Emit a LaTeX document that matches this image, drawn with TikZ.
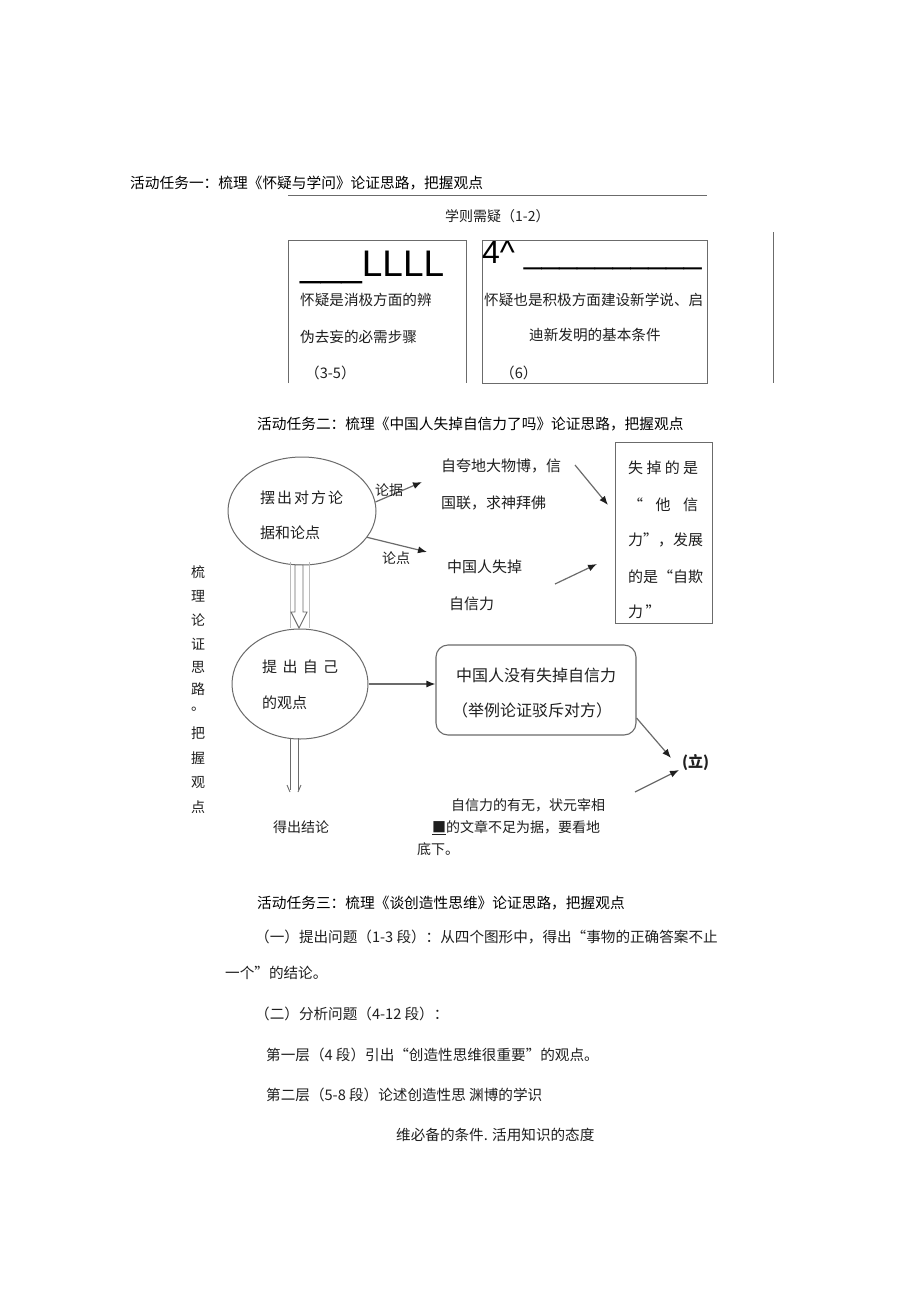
\documentclass[tikz,border=0pt]{standalone}
\usepackage{fontspec}
\setmainfont{Noto Sans CJK SC}
\newfontfamily\arialf{Liberation Sans}
\usetikzlibrary{arrows.meta,shapes.geometric}
\definecolor{lc}{gray}{0.42}
\definecolor{tc}{gray}{0.12}
\begin{document}
\begin{tikzpicture}[x=1pt,y=-1pt,
 txt/.style={anchor=west,inner sep=0pt,text=tc,font=\fontsize{14}{16}\selectfont},
 body/.style={txt,font=\fontsize{14.6}{17}\selectfont},
 ttl/.style={anchor=west,inner sep=0pt,text=black,font=\fontsize{14.7}{17}\selectfont},
 mid/.style={txt,font=\fontsize{15}{17}\selectfont},
 big/.style={txt,font=\fontsize{16}{18}\selectfont},
 ln/.style={draw=lc,line width=0.9pt},
 thinln/.style={draw=lc,line width=0.6pt},
 arr/.style={draw=lc,line width=1.2pt,-{Latex[length=9pt,width=7pt,color=tc]}},
 ]
\path[use as bounding box,fill=white] (0,0) rectangle (920,1301);

% ---------------- Section 1 ----------------
\node[ttl] (t1) at (130,183) {活动任务一：梳理《怀疑与学问》论证思路，把握观点};
\coordinate (u1a) at (288,195);
\coordinate (u1b) at (707,195);
\draw[thinln] (u1a) -- (u1b);
\node[txt] (s1) at (445,216) {学则需疑（1-2）};

\draw[ln] (288,383) -- (288,240) -- (466,240) -- (466,383);
\node[draw=lc,line width=0.9pt,minimum width=225pt,minimum height=143pt,inner sep=0pt] (rb) at (594.5,311.5) {};
\draw[ln] (773,232) -- (773,383);

\node[anchor=base west,inner sep=0pt,text=black,font=\arialf\fontsize{37}{40}\selectfont] (LL) at (300,276) {\_\_\_LLLL};
\node[anchor=base west,inner sep=0pt,text=black,font=\arialf\fontsize{32}{36}\selectfont] (f4) at (482,263) {4\^{} \_\_\_\_\_\_\_\_\_\_};

\node[body] (l1) at (300,300) {怀疑是消极方面的辨};
\node[body] (l2) at (300,337) {伪去妄的必需步骤};
\node[body] (l3) at (305,373) {（3-5）};
\node[body] (r1) at (484,300) {怀疑也是积极方面建设新学说、启};
\node[body] (r2) at (529,335) {迪新发明的基本条件};
\node[body] (r3) at (500,373) {（6）};

% ---------------- Section 2 ----------------
\node[ttl] (t2) at (257,424) {活动任务二：梳理《中国人失掉自信力了吗》论证思路，把握观点};

\node[ellipse,draw=lc,line width=1pt,minimum width=148pt,minimum height=108pt,inner sep=0pt] (e1) at (302,511) {};
\node[mid] (e1a) at (260,498) {\makebox[83pt][s]{摆\hfill 出\hfill 对\hfill 方\hfill 论}};
\node[mid] (e1b) at (260,533) {据和论点};

\node[ellipse,draw=lc,line width=1pt,minimum width=136pt,minimum height=110pt,inner sep=0pt] (e2) at (300,684) {};
\node[mid] (e2a) at (262,667) {\makebox[76pt][s]{提\hfill 出\hfill 自\hfill 己}};
\node[mid] (e2b) at (262,703) {的观点};

% double arrow between ellipses
\draw[draw=lc!45,line width=0.6pt] (290,562) -- (290,628) (309,562) -- (309,628);
\draw[ln,fill=white] (295,565) -- (303,565) -- (303,612) -- (307,612) -- (299,628) -- (291,612) -- (295,612) -- cycle;
% double line down from ellipse 2
\draw[ln] (290,738) -- (290,790) (298,738) -- (298,790);
\draw[ln] (287,785) -- (290,792) (301,785) -- (298,792);
\node[txt] (dc) at (273,827) {得出结论};

% evidence / claim arrows
\coordinate (ja) at (422,482);
\coordinate (jb) at (427,552);
\draw[arr] (e1.7) -- (ja);
\draw[arr] (e1.-22) -- (jb);
\node[txt] (lj) at (375,490) {论据};
\node[txt] (ld) at (382,558) {论点};

\node[mid] (k1) at (441,466) {自夸地大物博，信};
\node[mid] (k2) at (441,503) {国联，求神拜佛};
\node[mid] (k3) at (447,567) {中国人失掉};
\node[mid] (k4) at (449,604) {自信力};

\node[draw=lc,line width=1pt,minimum width=97pt,minimum height=181pt,inner sep=0pt] (b3) at (663.5,532.5) {};
\node[mid] (m1) at (628,468) {\makebox[70pt][s]{失\hfill 掉\hfill 的\hfill 是}};
\node[mid] (m2) at (628,505) {\makebox[70pt][s]{“\hfill 他\hfill 信}};
\node[mid] (m3) at (628,540) {\makebox[72pt][s]{力”，\hfill 发\hfill 展}};
\node[mid] (m4) at (628,577) {\makebox[72pt][s]{的\hfill 是\hfill “自\hfill 欺}};
\node[mid] (m5) at (628,612) {力\,”};

\coordinate (a1s) at (575,465);
\coordinate (a1e) at (608,505);
\coordinate (a2s) at (555,584);
\coordinate (a2e) at (597,564);
\draw[arr] (a1s) -- (a1e);
\draw[arr] (a2s) -- (a2e);

\node[draw=lc,line width=1.1pt,rounded corners=12pt,minimum width=200pt,minimum height=90pt,inner sep=0pt] (b2) at (536,690) {};
\node[big] (n1) at (456,675) {中国人没有失掉自信力};
\node[big] (n2) at (452,710) {（举例论证驳斥对方）};
\draw[arr] (e2.east) -- (e2.east -| b2.west);

\node[anchor=west,inner sep=0pt,text=tc,font=\bfseries\fontsize{15}{17}\selectfont] (li) at (682,763) {(立)};
\coordinate (c1e) at (671,758);
\coordinate (c2s) at (635,792);
\coordinate (c2e) at (679,770);
\draw[arr] ([yshift=-28pt]b2.east) -- (c1e);
\draw[arr] (c2s) -- (c2e);

\node[txt] (z1) at (451,805) {自信力的有无，状元宰相};
\node[txt] (z2) at (432,828) {\underline{■}的文章不足为据，要看地};
\node[txt] (z3) at (417,849) {底下。};

\foreach \c/\yy [count=\i] in {梳/572,理/596,论/620,证/644,思/667,路/689,。/709,把/733,握/758,观/783,点/807}
  \node[txt,anchor=center] (v\i) at (198,\yy) {\c};

% ---------------- Section 3 ----------------
\node[ttl] (t3) at (257,903) {活动任务三：梳理《谈创造性思维》论证思路，把握观点};
\node[body] (p1) at (255,937) {（一）提出问题（1-3 段）：从四个图形中，得出“事物的正确答案不止};
\node[body] (p2) at (225,973) {一个”的结论。};
\node[body] (p3) at (255,1014) {（二）分析问题（4-12 段）：};
\node[body] (p4) at (266,1055) {第一层（4 段）引出“创造性思维很重要”的观点。};
\node[body] (p5) at (266,1095) {第二层（5-8 段）论述创造性思 渊博的学识};
\node[body] (p6) at (396,1135) {维必备的条件. 活用知识的态度};
\end{tikzpicture}
\end{document}
